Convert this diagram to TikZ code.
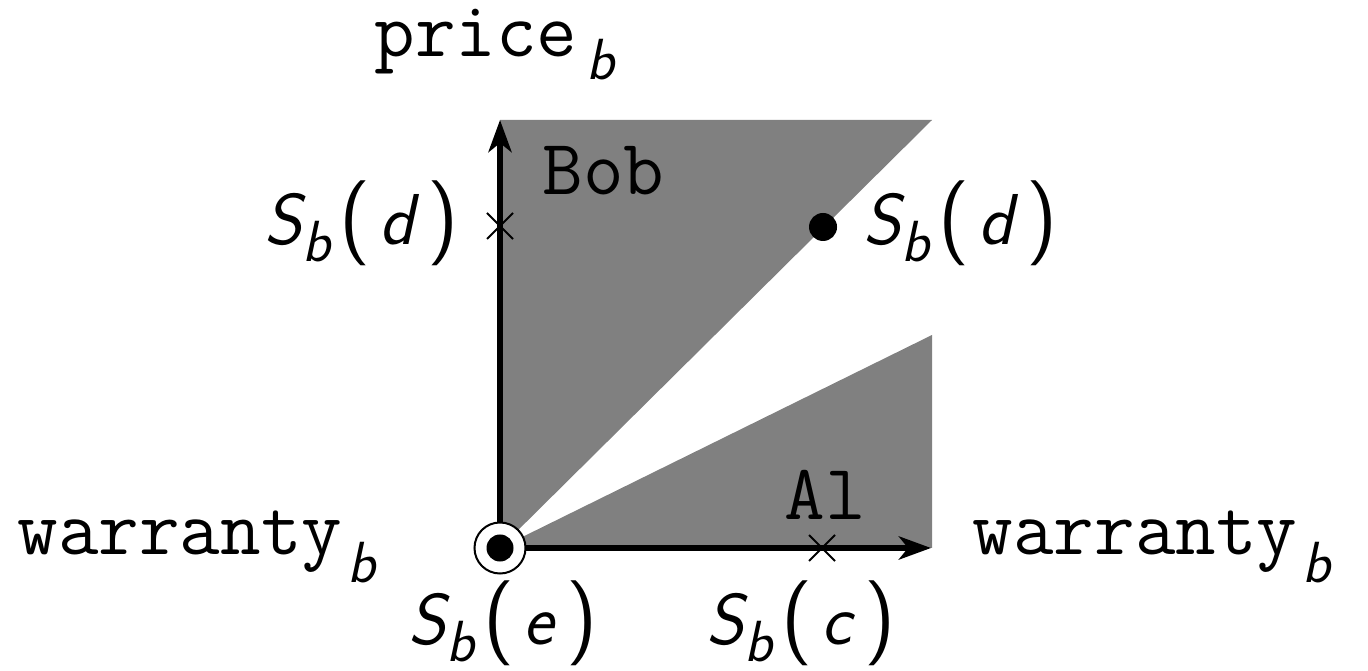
\documentclass[tikz,border=0pt]{standalone}
\usepackage{fontspec}
\usetikzlibrary{arrows.meta,shapes.misc}
\newcommand\sv[1]{{\sffamily\itshape #1}}
\newcommand\subb[1]{\raisebox{-#1}{\fontsize{16.5}{18}\selectfont\sv{b}}}
\newcommand\bigparen[1]{{\fontsize{24.2}{28}\selectfont\sffamily #1}}
\newcommand\Sb[1]{{\fontsize{20.5}{24}\selectfont\sv{S}\subb{4.8pt}\kern2.5pt\bigparen{(}\kern2.7pt\sv{#1}\kern3.5pt\bigparen{)}}}
\newcommand\ttl[3]{{\fontsize{22.4}{26}\selectfont\ttfamily #1}\kern#3\subb{#2}}
\begin{document}
\begin{tikzpicture}[x=0.01cm,y=-0.01cm,
  font=\fontsize{22.4}{26}\selectfont,
  lbl/.style={inner sep=0, anchor=base west},
  axis/.style={line width=0.057cm, -{Stealth[length=0.32cm,width=0.23cm,inset=0.09cm]}},
  region/.style={fill=black!50, draw=none},
  xmark/.style={draw, cross out, line width=0.02cm, inner sep=0, minimum size=0.24cm},
  bigdot/.style={circle, fill=black, inner sep=0, minimum size=0.28cm}]
\useasboundingbox (0,0) rectangle (1368,671);
\coordinate (O) at (500,548);
\coordinate (ytip) at (500,120);
\coordinate (xtip) at (931,548);
\fill[region] (O) -- (500,120) -- (932,120) -- cycle;
\fill[region] (O) -- (932,335) -- (932,548) -- cycle;
\draw[axis] (O) -- (ytip);
\draw[axis] (O) -- (xtip);
\node[xmark] (cy) at (500,226) {};
\node[xmark] (cx) at (822,548) {};
\node[bigdot] (dd) at (823,227) {};
\node[circle, draw, fill=white, line width=0.02cm, minimum size=0.51cm, inner sep=0] (oc) at (O) {};
\node[bigdot, minimum size=0.27cm] (od) at (O) {};
\node[lbl] (price) at (374,57) {\ttl{price}{6.5pt}{2.5pt}};
\node[lbl] (bob) at (542,195) {\ttfamily Bob};
\node[lbl] (al) at (784,520) {\ttfamily Al};
\node[lbl] (sdl) at (264,245) {\Sb{d}};
\node[lbl] (sdr) at (863,245) {\Sb{d}};
\node[lbl] (wl) at (17,555) {\ttl{warranty}{7.7pt}{1.5pt}};
\node[lbl] (wr) at (972,555) {\ttl{warranty}{7.7pt}{1.5pt}};
\node[lbl] (se) at (408,645) {\Sb{e}};
\node[lbl] (sc) at (706,645) {\Sb{c}};
\end{tikzpicture}
\end{document}
